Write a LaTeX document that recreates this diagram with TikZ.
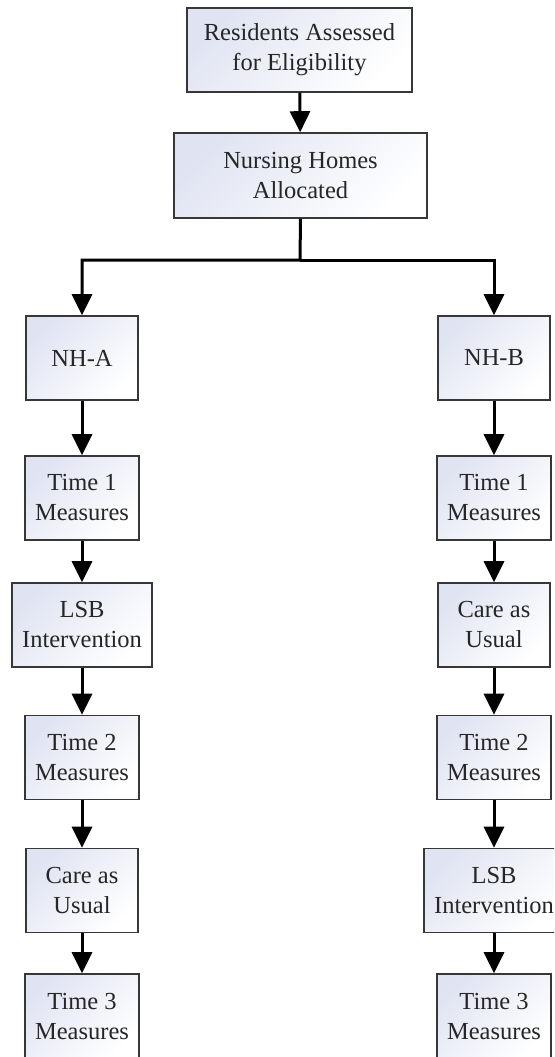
\documentclass[tikz,border=0pt]{standalone}
\usepackage{fontspec}
\setmainfont{Liberation Serif}
\usetikzlibrary{arrows.meta}
\definecolor{boxtint}{RGB}{224,228,242}
\definecolor{boxline}{RGB}{55,55,55}
\tikzset{>={Triangle[length=21pt,width=20pt]}}
\tikzset{box/.style={draw=boxline, line width=1.6pt, top color=boxtint, bottom color=white,
    shading angle=45, text=black!85, align=center, inner sep=0pt, inner xsep=10pt,
    minimum width=112pt, minimum height=84pt, font=\fontsize{24.5}{30}\selectfont},
  link/.style={->, line width=3pt, black}}

\begin{document}
\begin{tikzpicture}[x=1pt, y=-1pt]

\useasboundingbox (0, 0) rectangle (554, 1057);
\clip (0, 0) rectangle (554, 1057);

\node[box, minimum width=225pt] (res) at (299.5, 50) {Residents Assessed\\for Eligibility};
\node[box, minimum width=253pt, minimum height=85pt] (alloc) at (300.5, 175.5) {Nursing Homes\\Allocated};
\coordinate (split) at (300, 260);

% left arm: NH-A
\foreach \n/\y/\txt in {1/358/{NH-A}, 2/498/{Time 1\\Measures}, 3/625/{LSB\\Intervention},
    4/757.5/{Time 2\\Measures}, 5/890.5/{Care as\\Usual}, 6/1016/{Time 3\\Measures}} {
  \node[box] (a\n) at (82, \y) {\txt};
}

% right arm: NH-B
\foreach \n/\y/\txt in {1/358/{NH-B}, 2/498/{Time 1\\Measures}, 3/625/{Care as\\Usual},
    4/757.5/{Time 2\\Measures}, 5/890.5/{LSB\\Intervention}, 6/1016/{Time 3\\Measures}} {
  \node[box] (b\n) at (494, \y) {\txt};
}

\draw[link] (res) -- (alloc);
\draw[link] (alloc.south) -- (split) -| (a1.north);
\draw[link] (split) -| (b1.north);

\foreach \i in {1, 2, ..., 5} {
  \pgfmathtruncatemacro\j{\i + 1}
  \draw[link] (a\i) -- (a\j);
  \draw[link] (b\i) -- (b\j);
}

\end{tikzpicture}
\end{document}
